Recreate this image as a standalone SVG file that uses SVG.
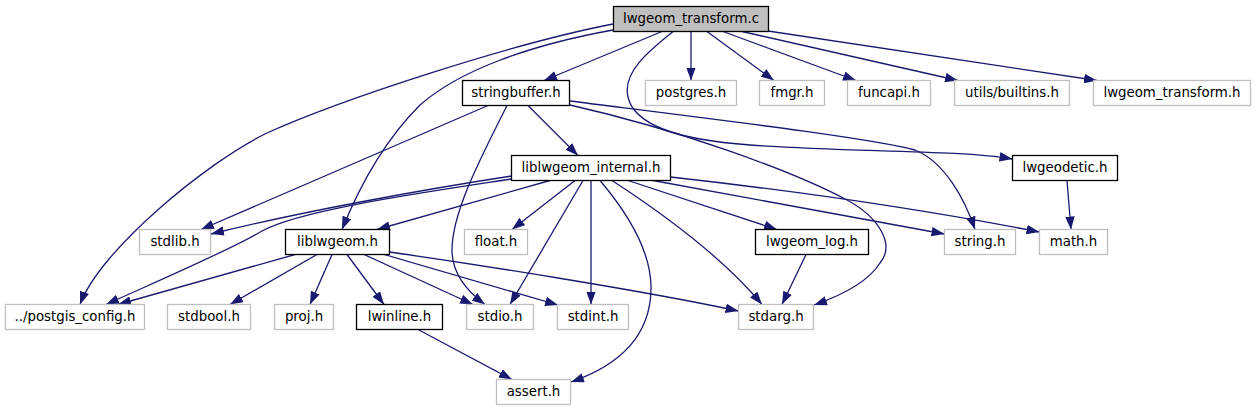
<svg xmlns="http://www.w3.org/2000/svg" width="1256" height="411" viewBox="0 0 1256 411">
<style>
  .n rect { fill: #ffffff; stroke: #000000; stroke-width: 1.3; }
  .n.g rect { stroke: #bfbfbf; }
  .n.root rect { fill: #bfbfbf; }
  .n text { font-family: "DejaVu Sans", "Noto Sans", sans-serif; font-size: 13.33px; fill: #000000; text-anchor: middle; }
  #edges path { fill: none; stroke: #191970; stroke-width: 1.3; marker-end: url(#ah); }
</style>
<defs>
  <marker id="ah" viewBox="0 0 13 9.5" markerWidth="13" markerHeight="9.5" refX="13" refY="4.75" orient="auto" markerUnits="userSpaceOnUse">
    <path d="M0,0 L13,4.75 L0,9.5 z" fill="#191970"/>
  </marker>
</defs>
<rect x="0" y="0" width="1256" height="411" fill="#ffffff"/>
<g id="edges">
  <path d="M662,31.5 L544,80.5"/>
  <path d="M691,31.5 L691,80.5"/>
  <path d="M707,31.5 L774,80.5"/>
  <path d="M723,31.5 L856,80.5"/>
  <path d="M742,31.5 L958,80.5"/>
  <path d="M768,31 L1097,80.5"/>
  <path d="M613,24 C510,44 340,100 267,133 C207,162 100,250 80,304.5"/>
  <path d="M613,30 C530,45 460,70 420,105 C385,140 360,185 342,229.5"/>
  <path d="M673,31.5 C650,50 622,72 628,97 C634,125 680,140 750,145 C850,152 960,150 1012.5,159"/>
  <path d="M528,105.5 L578,155.5"/>
  <path d="M488,105.5 L201,229.5"/>
  <path d="M507,105.5 C485,150 452,210 452,250 C452,275 468,292 485,304.5"/>
  <path d="M570,105 C680,130 790,170 847,200 C880,218 895,245 880,263 C868,282 840,296 814,305"/>
  <path d="M570,101 C720,120 870,138 915,150 C945,162 965,200 975,229.5"/>
  <path d="M511.5,176 C420,190 300,212 211,234"/>
  <path d="M511.5,179 C420,193 300,210 262,231 C230,250 160,280 106,304.5"/>
  <path d="M550,180.5 L377,229.5"/>
  <path d="M575,180.5 L512,229.5"/>
  <path d="M583,180.5 L510,304.5"/>
  <path d="M591,180.5 L591,304.5"/>
  <path d="M600,180.5 C625,210 652,250 651,290 C650,335 620,365 571,382"/>
  <path d="M612,180.5 C665,215 725,260 762,304.5"/>
  <path d="M628,180.5 L777,229.5"/>
  <path d="M653,180.5 L944.5,234"/>
  <path d="M670.5,177 C760,187 900,205 1039.5,232"/>
  <path d="M806,254.5 L782,304.5"/>
  <path d="M1067,180.5 L1071,229.5"/>
  <path d="M295,254.5 L118,304.5"/>
  <path d="M317,254.5 L230,304.5"/>
  <path d="M332,254.5 L310,304.5"/>
  <path d="M347,254.5 L384,304.5"/>
  <path d="M364,254.5 L473,304.5"/>
  <path d="M384,254.5 L558,305"/>
  <path d="M389.5,252 C480,265 640,290 738.5,311"/>
  <path d="M418,329.5 L512,379.5"/>
</g>
<g id="node_lwgeom_transform_c" class="n root"><rect x="613.5" y="6.5" width="155" height="25"/><text x="691" y="23">lwgeom_transform.c</text></g>
<g id="node_stringbuffer_h" class="n"><rect x="462.5" y="80.5" width="107" height="25"/><text x="516" y="97">stringbuffer.h</text></g>
<g id="node_postgres_h" class="n g"><rect x="645.5" y="80.5" width="91" height="25"/><text x="691" y="97">postgres.h</text></g>
<g id="node_fmgr_h" class="n g"><rect x="759.5" y="80.5" width="65" height="25"/><text x="792" y="97">fmgr.h</text></g>
<g id="node_funcapi_h" class="n g"><rect x="847.5" y="80.5" width="83" height="25"/><text x="889" y="97">funcapi.h</text></g>
<g id="node_utils_builtins_h" class="n g"><rect x="954.5" y="80.5" width="115" height="25"/><text x="1012" y="97">utils/builtins.h</text></g>
<g id="node_lwgeom_transform_h" class="n g"><rect x="1093.5" y="80.5" width="157" height="25"/><text x="1172" y="97">lwgeom_transform.h</text></g>
<g id="node_lwgeodetic_h" class="n"><rect x="1012.5" y="155.5" width="105" height="25"/><text x="1065" y="172">lwgeodetic.h</text></g>
<g id="node_liblwgeom_internal_h" class="n"><rect x="511.5" y="155.5" width="159" height="25"/><text x="591" y="172">liblwgeom_internal.h</text></g>
<g id="node_stdlib_h" class="n g"><rect x="139.5" y="229.5" width="71" height="25"/><text x="175" y="246">stdlib.h</text></g>
<g id="node_liblwgeom_h" class="n"><rect x="285.5" y="229.5" width="104" height="25"/><text x="337.5" y="246">liblwgeom.h</text></g>
<g id="node_float_h" class="n g"><rect x="464.5" y="229.5" width="63" height="25"/><text x="496" y="246">float.h</text></g>
<g id="node_lwgeom_log_h" class="n"><rect x="755.5" y="229.5" width="113" height="25"/><text x="812" y="246">lwgeom_log.h</text></g>
<g id="node_string_h" class="n g"><rect x="944.5" y="229.5" width="71" height="25"/><text x="980" y="246">string.h</text></g>
<g id="node_math_h" class="n g"><rect x="1039.5" y="229.5" width="68" height="25"/><text x="1073.5" y="246">math.h</text></g>
<g id="node_postgis_config_h" class="n g"><rect x="5.5" y="304.5" width="139" height="25"/><text x="75" y="321">../postgis_config.h</text></g>
<g id="node_stdbool_h" class="n g"><rect x="167.5" y="304.5" width="83" height="25"/><text x="209" y="321">stdbool.h</text></g>
<g id="node_proj_h" class="n g"><rect x="274.5" y="304.5" width="59" height="25"/><text x="304" y="321">proj.h</text></g>
<g id="node_lwinline_h" class="n"><rect x="356.5" y="304.5" width="86" height="25"/><text x="399.5" y="321">lwinline.h</text></g>
<g id="node_stdio_h" class="n g"><rect x="466.5" y="304.5" width="67" height="25"/><text x="500" y="321">stdio.h</text></g>
<g id="node_stdint_h" class="n g"><rect x="557.5" y="304.5" width="71" height="25"/><text x="593" y="321">stdint.h</text></g>
<g id="node_stdarg_h" class="n g"><rect x="738.5" y="304.5" width="75" height="25"/><text x="776" y="321">stdarg.h</text></g>
<g id="node_assert_h" class="n g"><rect x="496.5" y="379.5" width="74" height="25"/><text x="533.5" y="396">assert.h</text></g>
</svg>
